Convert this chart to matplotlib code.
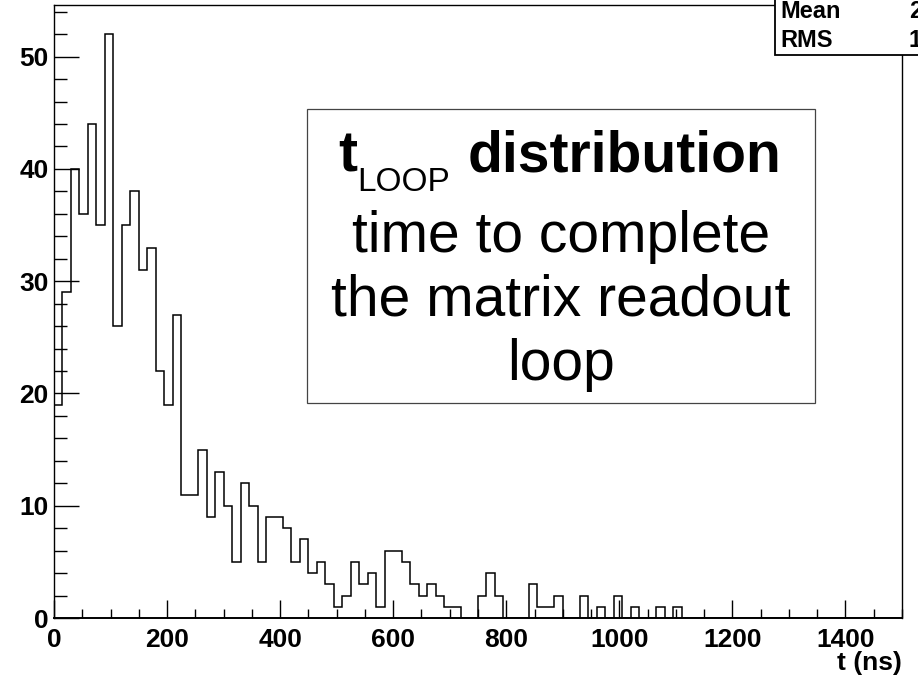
import numpy as np
import matplotlib
matplotlib.use("Agg")
import matplotlib.pyplot as plt
from matplotlib.patches import Rectangle

# histogram of t_LOOP, 100 bins of 15 ns from 0 to 1500
x_min, x_max, bin_width = 0, 1500, 15
counts = [19, 29, 40, 36, 44, 35, 52, 26, 35, 38,
          31, 33, 22, 19, 27, 11, 11, 15, 9, 13,
          10, 5, 12, 10, 5, 9, 9, 8, 5, 7,
          4, 5, 3, 1, 2, 5, 3, 4, 1, 6,
          6, 5, 3, 2, 3, 2, 1, 1, 0, 0,
          2, 4, 2, 0, 0, 0, 3, 1, 1, 2,
          0, 0, 2, 0, 1, 0, 2, 0, 1, 0,
          0, 1, 0, 1] + [0] * 26

x_ticks = [0, 200, 400, 600, 800, 1000, 1200, 1400]
y_ticks = [0, 10, 20, 30, 40, 50]

W, H = 918, 680
def fx(px):
    return px / W
def fy(py):
    return 1 - py / H

plt.rcParams['font.family'] = ['Liberation Sans', 'DejaVu Sans']

edges = np.arange(x_min, x_max + bin_width, bin_width)
counts = np.array(counts)
centers = 0.5 * (edges[:-1] + edges[1:])
mean = np.sum(counts * centers) / counts.sum()
rms = np.sqrt(np.sum(counts * (centers - mean) ** 2) / counts.sum())

fig = plt.figure(figsize=(W / 100, H / 100), dpi=100)
ax = fig.add_axes([fx(54), fy(618), fx(902) - fx(54), fy(5) - fy(618)])

ax.stairs(counts, edges, color='black', linewidth=1.1)
ax.set_xlim(x_min, x_max)
ax.set_ylim(0, counts.max() * 1.05)

ax.set_xticks(x_ticks)
ax.set_yticks(y_ticks)
ax.set_xticks(np.arange(0, x_max + 1, 50), minor=True)
ax.set_yticks(np.arange(0, 55, 2), minor=True)
ax.tick_params(axis='x', which='major', direction='in', length=13, width=1.0,
               pad=7, labelsize=19)
ax.tick_params(axis='x', which='minor', direction='in', length=6.5, width=1.0)
ax.tick_params(axis='y', which='major', direction='in', length=18, width=1.0,
               pad=4, labelsize=19)
ax.tick_params(axis='y', which='minor', direction='in', length=9, width=1.0)
for lab in ax.get_xticklabels() + ax.get_yticklabels():
    lab.set_fontweight('bold')
for s in ax.spines.values():
    s.set_linewidth(1.0)
ax.spines['bottom'].set_linewidth(1.4)

fig.text(fx(902), fy(670), 't (ns)', ha='right', va='baseline',
         fontsize=19, fontweight='bold')

# text box
fig.patches.append(Rectangle((fx(307), fy(403)), fx(815) - fx(307), fy(109) - fy(403),
                             transform=fig.transFigure, facecolor='white',
                             edgecolor='#444444', linewidth=0.9, zorder=3))
fig.text(fx(338), fy(172), 't', ha='left', va='baseline', fontsize=41,
         fontweight='bold', zorder=4)
fig.text(fx(357), fy(191), 'LOOP', ha='left', va='baseline', fontsize=24, zorder=4)
fig.text(fx(468), fy(172), 'distribution', ha='left', va='baseline', fontsize=41,
         fontweight='bold', zorder=4)
fig.text(fx(561), fy(252), 'time to complete', ha='center', va='baseline',
         fontsize=41, zorder=4)
fig.text(fx(561), fy(315), 'the matrix readout', ha='center', va='baseline',
         fontsize=41, zorder=4)
fig.text(fx(561), fy(380), 'loop', ha='center', va='baseline',
         fontsize=41, zorder=4)

# stats box (cut by the right edge, as in the original)
fig.patches.append(Rectangle((fx(775), fy(55)), fx(940) - fx(775), fy(-5) - fy(55),
                             transform=fig.transFigure, facecolor='white',
                             edgecolor='black', linewidth=1.3, zorder=3))
fig.text(fx(780), fy(18), 'Mean', ha='left', va='baseline', fontsize=17,
         fontweight='bold', zorder=4)
fig.text(fx(780), fy(47), 'RMS', ha='left', va='baseline', fontsize=17,
         fontweight='bold', zorder=4)
fig.text(fx(909), fy(18), '%.1f' % mean, ha='left', va='baseline', fontsize=17,
         fontweight='bold', zorder=4)
fig.text(fx(909), fy(47), '%.1f' % rms, ha='left', va='baseline', fontsize=17,
         fontweight='bold', zorder=4)

fig.savefig('out.png', dpi=100)
